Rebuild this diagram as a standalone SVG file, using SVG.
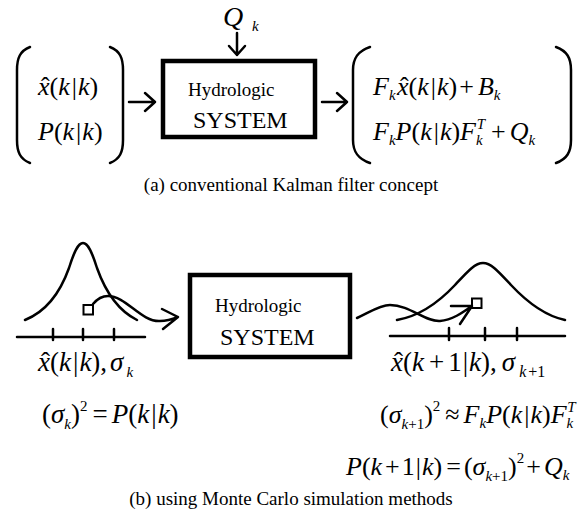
<svg xmlns="http://www.w3.org/2000/svg" width="582" height="526" viewBox="0 0 582 526">
<style>
.t{font-family:"Liberation Serif","Times New Roman",serif;fill:#000}
.m{font-size:26px}
.mb{font-size:27px}
.i{font-style:italic}
.s{font-size:15px}
.cap{font-size:19px}
.ln{fill:none;stroke:#000;stroke-width:2.5;stroke-linecap:round;stroke-linejoin:round}
.box{fill:#fff;stroke:#000;stroke-width:4.5}
</style>
<rect width="582" height="526" fill="#fff"/>

<g id="qk">
<text class="t i" x="223" y="26" font-size="28">Q<tspan class="s" x="252" y="31">k</tspan></text>
</g>

<g id="top-input">
<path class="ln" d="M30,47 C20,51 17,58 17,70 L17,140 C17,152 20,159 30,163"/>
<path class="ln" d="M110,47 C120,51 123,58 123,70 L123,140 C123,152 120,159 110,163"/>
<text class="t m" x="41" y="95">ˆ<tspan class="i" x="38">x</tspan>(<tspan class="i">k</tspan><tspan dx="2">|</tspan><tspan class="i" dx="1">k</tspan>)</text>
<text class="t m" x="38" y="140"><tspan class="i">P</tspan>(<tspan class="i">k</tspan><tspan dx="2">|</tspan><tspan class="i" dx="1">k</tspan>)</text>
</g>

<g id="top-system">
<rect class="box" x="163" y="61" width="152" height="76"/>
<text class="t" x="188" y="96" font-size="19">Hydrologic</text>
<text class="t" x="193" y="128" font-size="24">SYSTEM</text>
</g>

<g id="top-output">
<path class="ln" d="M370,47 C358,51 353,58 353,70 L353,140 C353,152 358,159 370,163"/>
<path class="ln" d="M556,47 C567,51 571,58 571,70 L571,140 C571,152 567,159 556,163"/>
<text class="t m" x="373" y="95"><tspan class="i">F</tspan><tspan class="i s" dy="5">k</tspan><tspan x="400" y="95">ˆ</tspan><tspan class="i" x="397">x</tspan>(<tspan class="i">k</tspan><tspan dx="2">|</tspan><tspan class="i" dx="1">k</tspan>)<tspan dx="2">+</tspan><tspan class="i" dx="4">B</tspan><tspan class="i s" dy="5">k</tspan></text>
<text class="t m" x="373" y="140"><tspan class="i">F</tspan><tspan class="i s" dy="5">k</tspan><tspan class="i" dy="-5">P</tspan>(<tspan class="i">k</tspan><tspan dx="2">|</tspan><tspan class="i" dx="1">k</tspan>)<tspan class="i">F</tspan><tspan class="i s" dy="5">k</tspan><tspan class="i s" dx="-6" dy="-16">T</tspan><tspan dx="6" dy="11">+</tspan><tspan class="i" dx="4">Q</tspan><tspan class="i s" dy="5">k</tspan></text>
</g>

<g id="caption-a">
<text class="t cap" x="291" y="191" text-anchor="middle">(a) conventional Kalman filter concept</text>
</g>

<g id="bottom-left-dist">
<path class="ln" d="M25,320 C45,312 59,296 69,268 C74,252 78,243 83,243 C88,243 92,252 97,268 C107,296 121,312 137,320"/>
<line class="ln" x1="17" y1="337" x2="145" y2="337"/>
<line class="ln" x1="53" y1="329" x2="53" y2="340"/>
<line class="ln" x1="83" y1="329" x2="83" y2="340"/>
<line class="ln" x1="114" y1="329" x2="114" y2="340"/>
<rect x="83.5" y="305" width="9.5" height="9.5" fill="#fff" stroke="#000" stroke-width="2"/>
<text class="t mb" x="41" y="371">ˆ<tspan class="i" x="38">x</tspan>(<tspan class="i">k</tspan><tspan dx="2">|</tspan><tspan class="i" dx="1">k</tspan>),<tspan class="i" dx="3">σ</tspan><tspan class="i s" dx="3" dy="6">k</tspan></text>
</g>

<g id="bottom-system">
<rect class="box" x="190" y="275" width="160" height="82"/>
<text class="t" x="215" y="312" font-size="19">Hydrologic</text>
<text class="t" x="220" y="345" font-size="24">SYSTEM</text>
</g>

<g id="bottom-right-dist">
<path class="ln" d="M397,320 C420,316 440,301 455,285 C468,271 475,263 483,263 C491,263 498,271 511,285 C526,301 546,316 565,320"/>
<line class="ln" x1="390" y1="336" x2="565" y2="336"/>
<line class="ln" x1="449" y1="328" x2="449" y2="340"/>
<line class="ln" x1="485" y1="328" x2="485" y2="340"/>
<line class="ln" x1="517" y1="328" x2="517" y2="340"/>
<rect x="472" y="298.5" width="9.5" height="9.5" fill="#fff" stroke="#000" stroke-width="2"/>
<text class="t mb" x="394" y="371">ˆ<tspan class="i" x="391">x</tspan>(<tspan class="i">k</tspan><tspan dx="5">+</tspan><tspan dx="4">1</tspan><tspan dx="1">|</tspan><tspan class="i" dx="1">k</tspan>),<tspan class="i" dx="5">σ</tspan><tspan class="i" font-size="16" dx="4" dy="6">k</tspan><tspan font-size="16" dx="2">+1</tspan></text>
</g>

<g id="equations">
<text class="t mb" x="42" y="423">(<tspan class="i">σ</tspan><tspan class="i s" dy="6">k</tspan><tspan dy="-6">)</tspan><tspan class="s" dy="-12">2</tspan><tspan dx="5" dy="12">=</tspan><tspan class="i" dx="4">P</tspan>(<tspan class="i">k</tspan><tspan dx="2">|</tspan><tspan class="i" dx="1">k</tspan>)</text>
<text class="t m" x="380" y="423">(<tspan class="i">σ</tspan><tspan class="i s" dy="6">k</tspan><tspan class="s">+1</tspan><tspan dy="-6">)</tspan><tspan class="s" dy="-12">2</tspan><tspan dx="5" dy="12">≈</tspan><tspan class="i" dx="4">F</tspan><tspan class="i s" dy="5">k</tspan><tspan class="i" dy="-5">P</tspan>(<tspan class="i">k</tspan><tspan dx="2">|</tspan><tspan class="i" dx="1">k</tspan>)<tspan class="i">F</tspan><tspan class="i s" dy="5">k</tspan><tspan class="i s" dx="-6" dy="-16">T</tspan></text>
<text class="t m" x="346" y="475"><tspan class="i">P</tspan>(<tspan class="i">k</tspan><tspan dx="3">+</tspan><tspan dx="2">1</tspan><tspan dx="1">|</tspan><tspan class="i" dx="1">k</tspan>)<tspan dx="4">=</tspan><tspan dx="3">(</tspan><tspan class="i">σ</tspan><tspan class="i s" dy="6">k</tspan><tspan class="s">+1</tspan><tspan dy="-6">)</tspan><tspan class="s" dy="-12">2</tspan><tspan dx="2" dy="12">+</tspan><tspan class="i" dx="3">Q</tspan><tspan class="i s" dy="5">k</tspan></text>
</g>

<g id="caption-b">
<text class="t cap" x="291" y="505" text-anchor="middle">(b) using Monte Carlo simulation methods</text>
</g>

<g id="connectors">
<path class="ln" d="M237,33 L237,55 M229,46 L237,55 L245,46"/>
<path class="ln" d="M129,102 L155,102 M145,93 L155,102 L145,111"/>
<path class="ln" d="M322,102 L347,102 M337,93 L347,102 L337,111"/>
<path class="ln" d="M93,304 C98,298 103,296 108,296 C126,296 141,322 160,321 C167,321 173,319 178,317 M162,309 L178,317 L163,329"/>
<path class="ln" d="M357,318 C370,312 380,305 390,305 C410,305 425,322 440,321 C452,320 462,313 472,306 M451,306 L472,306 L460,324"/>
</g>
</svg>
